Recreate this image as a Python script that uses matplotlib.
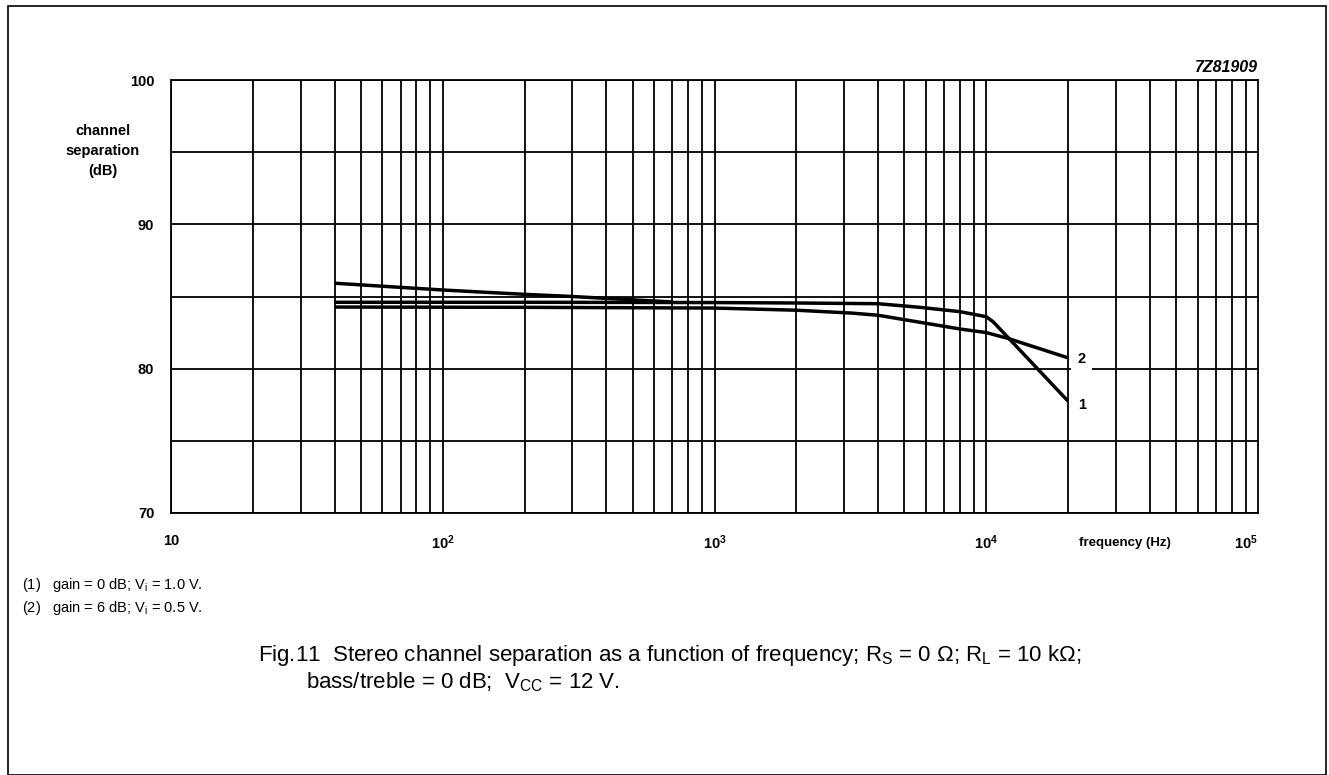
import matplotlib
matplotlib.use("Agg")
import matplotlib.pyplot as plt
from matplotlib.patches import Rectangle

plt.rcParams['font.family'] = ['Liberation Sans', 'DejaVu Sans']
plt.rcParams['mathtext.fontset'] = 'custom'
plt.rcParams['mathtext.rm'] = 'Liberation Sans'
plt.rcParams['mathtext.it'] = 'Liberation Sans:italic'
plt.rcParams['mathtext.bf'] = 'Liberation Sans:bold'

# curve (1): gain = 0 dB
f1 = [40, 200, 1000, 2000, 4000, 5700, 8000, 10000, 10600, 20000]
sep1 = [84.6, 84.6, 84.58, 84.55, 84.5, 84.25, 83.95, 83.6, 83.25, 77.75]
# curve (2): gain = 6 dB
f2 = [40, 200, 1000, 2000, 3200, 4000, 8000, 10000, 12000, 20000]
sep2 = [84.27, 84.25, 84.2, 84.05, 83.85, 83.7, 82.75, 82.5, 82.1, 80.75]
# upper trace at low frequencies, joins curve (1)
f3 = [40, 100, 200, 300, 400, 700]
sep3 = [85.92, 85.45, 85.15, 85.0, 84.87, 84.62]

xtick_vals = [10, 100, 1000, 10000, 100000]
xtick_labels = ['10', r'$\mathbf{10^2}$', r'$\mathbf{10^3}$', r'$\mathbf{10^4}$', r'$\mathbf{10^5}$']
ytick_vals = [70, 80, 90, 100]

W, H = 1329, 775
fig = plt.figure(figsize=(W / 100, H / 100), dpi=100)
ax = fig.add_axes([171 / W, 1 - 513 / H, (1258 - 171) / W, (513 - 80) / H])

ax.set_xscale('log')
ax.set_xlim(10, 1e5)
ax.set_ylim(70, 100)

# grid: every 1..9 in each decade, every 5 dB
for dec in [10, 100, 1000, 10000]:
    for m in range(1, 10):
        ax.axvline(dec * m, color='black', lw=1.3, zorder=1)
for v in range(70, 101, 5):
    ax.axhline(v, color='black', lw=1.3, zorder=1)

ax.plot(f1, sep1, color='black', lw=2.5, zorder=3, solid_capstyle='butt')
ax.plot(f2, sep2, color='black', lw=2.5, zorder=3, solid_capstyle='butt')
ax.plot(f3, sep3, color='black', lw=2.5, zorder=3, solid_capstyle='butt')

ax.text(21700, 80.65, '2', fontsize=10.5, fontweight='bold', va='center', ha='left',
        zorder=4, bbox=dict(facecolor='white', edgecolor='none', pad=4.5))
ax.text(21700, 77.45, '1', fontsize=10.5, fontweight='bold', va='center', ha='left', zorder=4)

ax.set_xticks(xtick_vals)
ax.set_xticklabels(xtick_labels)
ax.set_xticks([], minor=True)
ax.set_yticks(ytick_vals)
ax.set_yticklabels([str(v) for v in ytick_vals])
ax.tick_params(length=0, labelsize=10.5)
ax.tick_params(axis='x', pad=15)
ax.tick_params(axis='y', pad=12)
for lab in ax.get_yticklabels() + ax.get_xticklabels():
    lab.set_fontweight('bold')
ax.get_xticklabels()[-1].set_ha('right')
for s in ax.spines.values():
    s.set_linewidth(1.3)

fig.text(103 / W, 1 - 151 / H, 'channel\nseparation\n(dB)', ha='center', va='center',
         fontsize=10.5, fontweight='bold', linespacing=1.55)
fig.text(1125 / W, 1 - 543 / H, 'frequency (Hz)', ha='center', va='center',
         fontsize=9.5, fontweight='bold')
fig.text(1258 / W, 1 - 67 / H, '7Z81909', ha='right', va='center',
         fontsize=11.5, fontweight='bold', style='italic')

fig.text(22 / W, 1 - 585 / H, r'(1)   gain = 0 dB; V$_\mathrm{i}$ = 1.0 V.', ha='left', va='center', fontsize=10.5)
fig.text(22 / W, 1 - 608 / H, r'(2)   gain = 6 dB; V$_\mathrm{i}$ = 0.5 V.', ha='left', va='center', fontsize=10.5)

fig.text(258 / W, 1 - 656 / H,
         r'Fig.11  Stereo channel separation as a function of frequency; R$_\mathrm{S}$ = 0 Ω; R$_\mathrm{L}$ = 10 kΩ;',
         ha='left', va='center', fontsize=16)
fig.text(306 / W, 1 - 682 / H, r'bass/treble = 0 dB;  V$_\mathrm{CC}$ = 12 V.',
         ha='left', va='center', fontsize=16)

fig.patches.append(Rectangle((8 / W, 0), (1326 - 8) / W, 1 - 6 / H, transform=fig.transFigure,
                             fill=False, edgecolor='black', lw=1.2))

fig.savefig('out.png', dpi=100)
